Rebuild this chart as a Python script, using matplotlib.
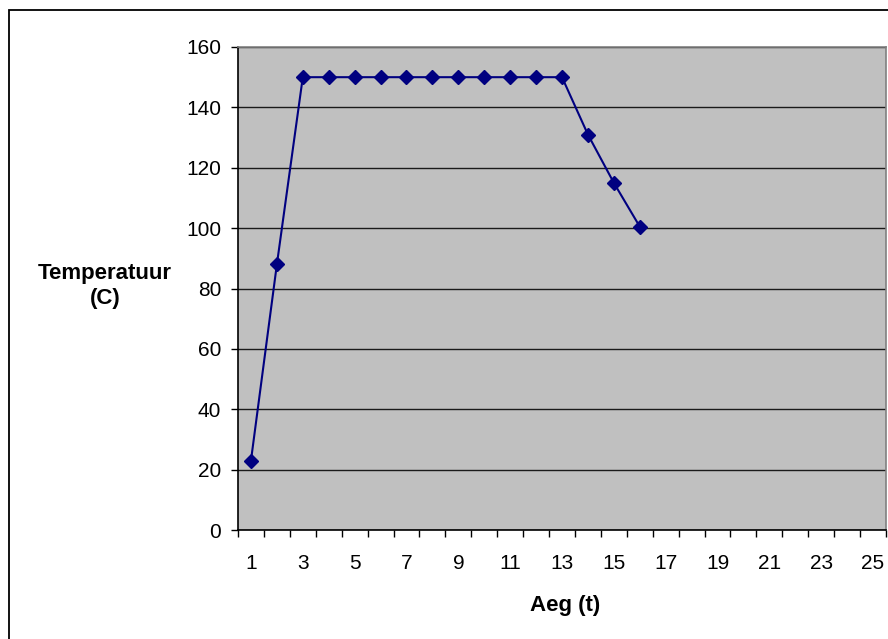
import matplotlib
matplotlib.use("Agg")
import matplotlib.pyplot as plt
from matplotlib.patches import Rectangle

plt.rcParams['font.family'] = ['Liberation Sans', 'DejaVu Sans']

aeg = list(range(1, 17))
temperatuur = [23, 88, 150, 150, 150, 150, 150, 150, 150, 150, 150, 150, 150, 131, 115, 100.5]
n_categories = 25
y_ticks = [0, 20, 40, 60, 80, 100, 120, 140, 160]
x_labels = [str(i) for i in range(1, 26, 2)]

fig = plt.figure(figsize=(8.88, 6.39), dpi=100)

# outer chart border (cut off at right and bottom like the reference)
fig.patches.append(Rectangle((9 / 888, -0.05), 1.2, (639 - 10) / 639 + 0.05,
                             transform=fig.transFigure, fill=False,
                             edgecolor="black", linewidth=1.3))

ax = fig.add_axes([238 / 888, (639 - 530) / 639, (886 - 238) / 888, (530 - 47) / 639])
ax.set_facecolor("#c0c0c0")

ax.plot(aeg, temperatuur, color="#000080", linewidth=1.5,
        marker="D", markersize=7, markerfacecolor="#000080",
        markeredgecolor="#000080", zorder=3)

ax.set_xlim(0.5, n_categories + 0.5)
ax.set_ylim(0, 160)

ax.set_yticks(y_ticks)
ax.yaxis.grid(True, color="#1a1a1a", linewidth=1.0)
ax.set_axisbelow(True)

# category boundaries get tick marks, odd categories get labels
ax.set_xticks([i + 0.5 for i in range(n_categories + 1)])
ax.set_xticklabels([])
ax.set_xticks(range(1, 26, 2), minor=True)
ax.set_xticklabels(x_labels, minor=True)
ax.tick_params(axis="x", which="minor", length=0, pad=17, labelsize=15)
ax.tick_params(axis="x", which="major", length=5, direction="out", width=1)
ax.tick_params(axis="y", length=5, direction="out", width=1, labelsize=15, pad=7)

for side in ["top", "right"]:
    ax.spines[side].set_color("#808080")
    ax.spines[side].set_linewidth(1.2)
for side in ["left", "bottom"]:
    ax.spines[side].set_color("black")
    ax.spines[side].set_linewidth(1.2)

fig.text(565 / 888, 1 - 605 / 639, "Aeg (t)", fontsize=16, fontweight="bold",
         ha="center", va="center")
fig.text(105 / 888, 1 - 286 / 639, "Temperatuur\n(C)", fontsize=16, fontweight="bold",
         ha="center", va="center", linespacing=1.3)

fig.savefig("out.png", dpi=100)
